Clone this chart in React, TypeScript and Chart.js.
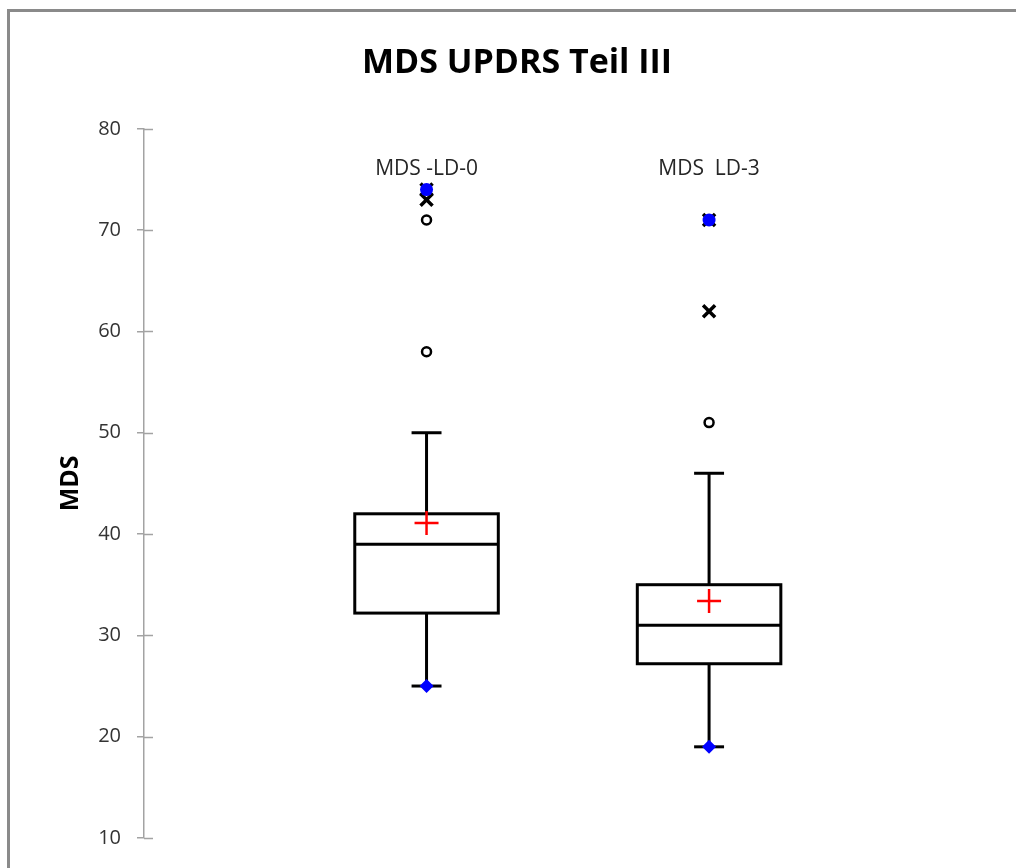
import React, { useEffect, useRef } from "react";
import { Chart, registerables } from "chart.js";

Chart.register(...registerables);

// ---- data ----
const categories = ["MDS -LD-0", "MDS  LD-3"];
const whiskerLow = [25, 19];
const q1 = [32.2, 27.2];
const median = [39, 31];
const q3 = [42, 35];
const whiskerHigh = [50, 46];
const means = [41.1, 33.4];
const minima = [25, 19];
const maxima = [74, 71];
const moderateOutliers = [[71, 58], [51]];
const extremeOutliers = [[73, 74], [62, 71]];
const yMin = 10;
const yMax = 80;
const yStep = 10;
const chartTitle = "MDS UPDRS Teil III";
const yTitle = "MDS";

const FONT = "'Open Sans', 'Noto Sans', sans-serif";
const AXIS_GRAY = "#a3a3a3";
const BOX_HALF = 0.254;
const CAP_HALF = 0.053;

const toPoints = (vals: number[]) => vals.map((v, i) => ({ x: i + 1, y: v }));
const toGroupPoints = (groups: number[][]) =>
  groups.flatMap((g, i) => g.map((v) => ({ x: i + 1, y: v })));

const boxPlugin = {
  id: "boxPlot",
  beforeDatasetsDraw(chart: any) {
    const { ctx, scales, chartArea } = chart;
    const x = scales.x;
    const y = scales.y;
    ctx.save();
    // inner halves of the y tick marks
    ctx.strokeStyle = AXIS_GRAY;
    ctx.lineWidth = 1.5;
    y.ticks.forEach((t: any) => {
      const py = Math.round(y.getPixelForValue(t.value)) + 0.5;
      ctx.beginPath();
      ctx.moveTo(chartArea.left, py);
      ctx.lineTo(chartArea.left + 9, py);
      ctx.stroke();
    });

    ctx.strokeStyle = "#000";
    ctx.lineWidth = 3;
    categories.forEach((c, i) => {
      const cx = x.getPixelForValue(i + 1);
      const hw = x.getPixelForValue(i + 1 + BOX_HALF) - cx;
      const cw = x.getPixelForValue(i + 1 + CAP_HALF) - cx;
      const yLo = y.getPixelForValue(whiskerLow[i]);
      const yQ1 = y.getPixelForValue(q1[i]);
      const yMed = y.getPixelForValue(median[i]);
      const yQ3 = y.getPixelForValue(q3[i]);
      const yHi = y.getPixelForValue(whiskerHigh[i]);
      const line = (x1: number, y1: number, x2: number, y2: number) => {
        ctx.beginPath();
        ctx.moveTo(x1, y1);
        ctx.lineTo(x2, y2);
        ctx.stroke();
      };
      line(cx, yHi, cx, yQ3);
      line(cx, yQ1, cx, yLo);
      line(cx - cw, yHi, cx + cw, yHi);
      line(cx - cw, yLo, cx + cw, yLo);
      ctx.fillStyle = "#fff";
      ctx.fillRect(cx - hw, yQ3, 2 * hw, yQ1 - yQ3);
      ctx.strokeRect(cx - hw, yQ3, 2 * hw, yQ1 - yQ3);
      line(cx - hw, yMed, cx + hw, yMed);

      ctx.fillStyle = "#262626";
      ctx.font = `21px ${FONT}`;
      ctx.textAlign = "center";
      ctx.textBaseline = "middle";
      ctx.fillText(c, cx, chartArea.top + 40);
    });
    ctx.restore();
  },
};

export default function App() {
  const ref = useRef<HTMLCanvasElement>(null);
  useEffect(() => {
    if (!ref.current) return;
    const chart = new Chart(ref.current, {
      type: "scatter",
      data: {
        datasets: [
          {
            label: "Maximum",
            data: toPoints(maxima),
            pointStyle: "circle",
            pointRadius: 6.5,
            backgroundColor: "#0000ff",
            borderColor: "#0000ff",
            borderWidth: 0,
          },
          {
            label: "Minimum",
            data: toPoints(minima),
            pointStyle: "rectRot",
            pointRadius: 7,
            backgroundColor: "#0000ff",
            borderColor: "#0000ff",
            borderWidth: 0,
          },
          {
            label: "Mean",
            data: toPoints(means),
            pointStyle: "cross",
            pointRadius: 12,
            borderColor: "#ff0000",
            backgroundColor: "#ff0000",
            borderWidth: 2.5,
          },
          {
            label: "Extreme outliers",
            data: toGroupPoints(extremeOutliers),
            pointStyle: "crossRot",
            pointRadius: 8.5,
            borderColor: "#000",
            backgroundColor: "#000",
            borderWidth: 3.5,
          },
          {
            label: "Outliers",
            data: toGroupPoints(moderateOutliers),
            pointStyle: "circle",
            pointRadius: 4.5,
            borderColor: "#000",
            backgroundColor: "#fff",
            borderWidth: 2.5,
          },
        ],
      },
      options: {
        animation: false,
        responsive: false,
        devicePixelRatio: 1,
        layout: { padding: { left: 18, right: 0, top: 0, bottom: 30 } },
        plugins: {
          legend: { display: false },
          tooltip: { enabled: false },
          title: {
            display: true,
            text: chartTitle,
            color: "#000",
            font: { family: FONT, size: 34, weight: "bold" },
            padding: { top: 43, bottom: 45 },
          },
        },
        scales: {
          x: { type: "linear", min: 0, max: 3.035, display: false },
          y: {
            type: "linear",
            min: yMin,
            max: yMax,
            afterFit: (scale: any) => {
              scale.width = 126;
            },
            ticks: {
              stepSize: yStep,
              padding: 16,
              color: "#333333",
              font: { family: FONT, size: 20 },
            },
            grid: {
              display: true,
              drawOnChartArea: false,
              drawTicks: true,
              tickLength: 7,
              color: AXIS_GRAY,
              lineWidth: 1.5,
            },
            border: { display: true, color: AXIS_GRAY, width: 1.5 },
            title: {
              display: true,
              text: yTitle,
              color: "#000",
              font: { family: FONT, size: 25, weight: "bold" },
              padding: { top: 38, bottom: 0 },
            },
          },
        },
      },
      plugins: [boxPlugin],
    } as any);
    return () => chart.destroy();
  }, []);

  return (
    <div style={{ position: "absolute", left: 0, top: 0, width: 1016, height: 868, overflow: "hidden", background: "#fff" }}>
      <div
        style={{
          position: "absolute",
          left: 7,
          top: 9,
          width: 1100,
          height: 1000,
          borderTop: "3px solid #8a8a8a",
          borderLeft: "3px solid #8a8a8a",
        }}
      />
      <canvas ref={ref} width={1016} height={868} style={{ position: "absolute", left: 0, top: 0 }} />
    </div>
  );
}
